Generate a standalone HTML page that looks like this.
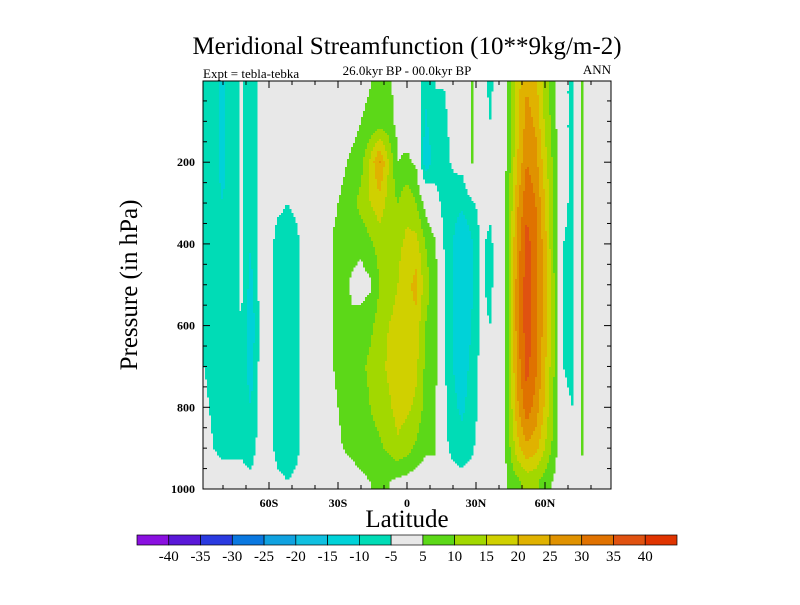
<!DOCTYPE html>
<html><head><meta charset="utf-8"><style>
html,body{margin:0;padding:0;background:#fff;}
svg text{font-family:"Liberation Serif",serif;fill:#000;}
</style></head><body>
<svg id="chart" width="800" height="600" viewBox="0 0 800 600" xmlns="http://www.w3.org/2000/svg">
<text x="407" y="54" font-size="25" text-anchor="middle">Meridional Streamfunction (10**9kg/m-2)</text>
<text x="407" y="75" font-size="13" text-anchor="middle">26.0kyr BP - 00.0kyr BP</text>
<text x="203" y="78" font-size="13">Expt = tebla-tebka</text>
<text x="611" y="74" font-size="13" text-anchor="end">ANN</text>
<text transform="translate(137,285) rotate(-90)" font-size="25" text-anchor="middle">Pressure (in hPa)</text>
<text x="407" y="527" font-size="25" text-anchor="middle">Latitude</text>
<g id="field"></g>
<g id="axes"></g>
<g id="cbar"></g>
</svg>
<script>
const lats = [-88,-84,-80,-76,-72,-68,-64,-60,-56,-52,-48,-44,-40,-36,-32,-28,-24,-20,-16,-12,-8,-4,0,4,8,12,16,20,24,28,32,36,40,44,48,52,56,60,64,68,72,76,80,84,88];
const pressures = [20,100,200,300,400,500,600,700,800,900,980];
const columns = [
[-6,-6,-6,-6,-6,-6,-6,-5,-4,-3,-2],
[-9,-9,-9,-9,-9,-8,-8,-7,-6,-5,-3],
[-11,-11,-11,-10,-10,-10,-9,-8,-7,-6,-3],
[-7,-7,-7,-7,-7,-7,-7,-7,-7,-6,-3],
[-4,-4,-4,-4,-4,-4,-5,-6,-6,-6,-3],
[-8,-8,-8,-9,-10,-12,-15,-13,-10,-7,-4],
[-4,-4,-3,-3,-3,-3,-3,-3,-3,-3,-2],
[-3,-3,-3,-3,-3,-3,-3,-3,-3,-3,-2],
[-3,-3,-3,-4,-7,-7,-7,-7,-7,-7,-4],
[-3,-3,-3,-5,-7,-7,-7,-7,-7,-7,-5],
[-3,-3,-3,-4,-6,-6,-6,-6,-6,-6,-4],
[-2,-2,-2,-2,-2,-2,-2,-2,-2,-2,-1],
[0,0,0,0,0,0,0,0,0,0,0],
[0,0,0,0,0,0,0,0,0,0,0],
[0,0,2,4,5.5,5.5,5.5,5,4,3,1],
[1,2,4,6,7,7,7,7,6,5,2],
[2,3,6,8,7,4,6,8,7,6,3],
[4,5,8,12,6,3,7,9,8,7,4],
[5,6,16,15,9,4,9,11,10,8,5],
[6,7,26,18,12,10,12,13,12,9,5],
[6,7,15,13,11,12,15,16,14,11,5],
[3,3,5,10,14,15,17,18,17,14,4],
[2,2,6,14,16,18,20,19,16,12,3],
[1,1,4,10,17,22,18,16,14,9,2],
[-9,-11,-14,3,10,12,10,9,8,6,1],
[-5,-6,-8,-2,6,8,7,7,6,6,1],
[-5,-6,-7,-7,-5,-4,-4,-4,-3,-3,-1],
[-3,-3,-4,-8,-10,-10,-10,-10,-9,-7,-2],
[-3,-3,-3,-9,-15,-14,-13,-12,-11,-8,-3],
[6,6,6,-6,-11,-11,-10,-9,-8,-6,-2],
[-2,-2,-3,-3,-4,-4,-4,-3,-3,-2,-1],
[-6,-5,-3,-4,-6,-6,-5,-3,-2,-2,-1],
[-2,-2,-2,-2,-2,-2,-2,-2,-2,-2,-1],
[6,6,7,8,9,9,9,9,9,8,6],
[18,18,20,24,27,28,28,27,24,18,9],
[25,27,30,34,37,38,38,37,33,24,12],
[22,24,27,30,32,32,32,31,28,22,11],
[12,14,17,20,22,22,22,21,19,15,8],
[7,7,8,9,9,10,10,10,9,8,4],
[-4,-4,-4,-4,-5,-5,-5,-5,-4,-3,-1],
[-6,-6,-6,-6,-6,-6,-6,-6,-5,-2,-1],
[6,6,6,6,6,6,6,6,6,6,2],
[-3,-3,-3,-3,-3,-3,-3,-3,-3,-1,0],
[-5,-5,-5,-5,-5,-5,-5,-5,-5,-1,0],
[-2,-2,-2,-2,-2,-2,-2,-2,-2,-2,-1]
];
const levelEdges = [-40,-35,-30,-25,-20,-15,-10,-5,5,10,15,20,25,30,35,40];
const levelColors = ["#8a10e0","#5a18d8","#2a3ae0","#0a78e0","#10a2e0","#10c0e0","#00d2d8","#00dcb6","#e8e8e8","#5cd818","#a2d800","#d0d000","#e0b200","#e09200","#e07200","#e05210","#e03400"];
const xTickLabels = ["60S","30S","0","30N","60N"];
const xTickValues = [-60,-30,0,30,60];
const yTickValues = [200,400,600,800,1000];

const NS="http://www.w3.org/2000/svg";
const L=203,R=611,T=81,B=489;
function xs(lat){return 407+lat*2.3;}
function ys(p){return 80.5+p*0.4085;}
function invx(x){return (x-407)/2.3;}
function invy(y){return (y-80.5)/0.4085;}
function mk(tag,attrs,parent){const e=document.createElementNS(NS,tag);for(const k in attrs)e.setAttribute(k,attrs[k]);parent.appendChild(e);return e;}
function interp(lat,p){
  let i=0; while(i<lats.length-2 && lat>lats[i+1]) i++;
  let tx=(lat-lats[i])/(lats[i+1]-lats[i]); tx=Math.max(0,Math.min(1,tx));
  let j=0; while(j<pressures.length-2 && p>pressures[j+1]) j++;
  let ty=(p-pressures[j])/(pressures[j+1]-pressures[j]); ty=Math.max(0,Math.min(1,ty));
  const a=columns[i][j],b=columns[i+1][j],c=columns[i][j+1],d=columns[i+1][j+1];
  return (a*(1-tx)+b*tx)*(1-ty)+(c*(1-tx)+d*tx)*ty;
}
function bin(v){let k=0;for(const e of levelEdges){if(v>=e)k++;}return k;}
const field=document.getElementById('field');
const bg=mk('rect',{x:L,y:T,width:R-L,height:B-T,fill:levelColors[8]},field);


const step=2;
for(let y=T;y<B;y+=step){
  let runStart=L,runCol=null;
  for(let x=L;x<=R;x+=step){
    let col=null;
    if(x<R){const v=interp(invx(x+step/2),invy(y+step/2));const k=bin(v);col=k===8?null:levelColors[k];}
    if(col!==runCol){
      if(runCol){const r=mk('rect',{x:runStart,y:y,width:x-runStart+0.5,height:step+0.5,fill:runCol},field);
        
        }
      runStart=x;runCol=col;
    }
  }
}
const axes=document.getElementById('axes');
mk('rect',{x:L,y:T,width:R-L,height:B-T,fill:'none',stroke:'#000','stroke-width':1},axes);
for(let lat=-80;lat<=80;lat+=10){
  const x=xs(lat);const major=lat%30===0;const len=major?7:4;
  mk('line',{x1:x,y1:B,x2:x,y2:B-len,stroke:'#000'},axes);
  mk('line',{x1:x,y1:T,x2:x,y2:T+len,stroke:'#000'},axes);
}
for(let p=50;p<1000;p+=50){
  const y=ys(p);const major=p%200===0;const len=major?7:4;
  mk('line',{x1:L,y1:y,x2:L+len,y2:y,stroke:'#000'},axes);
  mk('line',{x1:R,y1:y,x2:R-len,y2:y,stroke:'#000'},axes);
}
xTickLabels.forEach((t,i)=>{
  const e=mk('text',{x:xs(xTickValues[i]),y:B+18,'font-size':12,'font-weight':'bold','text-anchor':'middle'},axes);e.textContent=t;
  
  
});
yTickValues.forEach(v=>{
  const e=mk('text',{x:L-8,y:Math.min(ys(v),B)+4,'font-size':12,'font-weight':'bold','text-anchor':'end'},axes);e.textContent=v;
  
  
});
const cbar=document.getElementById('cbar');
const cx0=137,cw=(677-137)/17;
levelColors.forEach((c,i)=>{
  const r=mk('rect',{x:cx0+i*cw,y:535,width:cw,height:10,fill:c,stroke:'#000','stroke-width':0.7},cbar);
  
  
});
levelEdges.forEach((v,i)=>{
  const e=mk('text',{x:cx0+(i+1)*cw,y:561,'font-size':15,'text-anchor':'middle'},cbar);e.textContent=v;
  
  
});
</script>
</body></html>
